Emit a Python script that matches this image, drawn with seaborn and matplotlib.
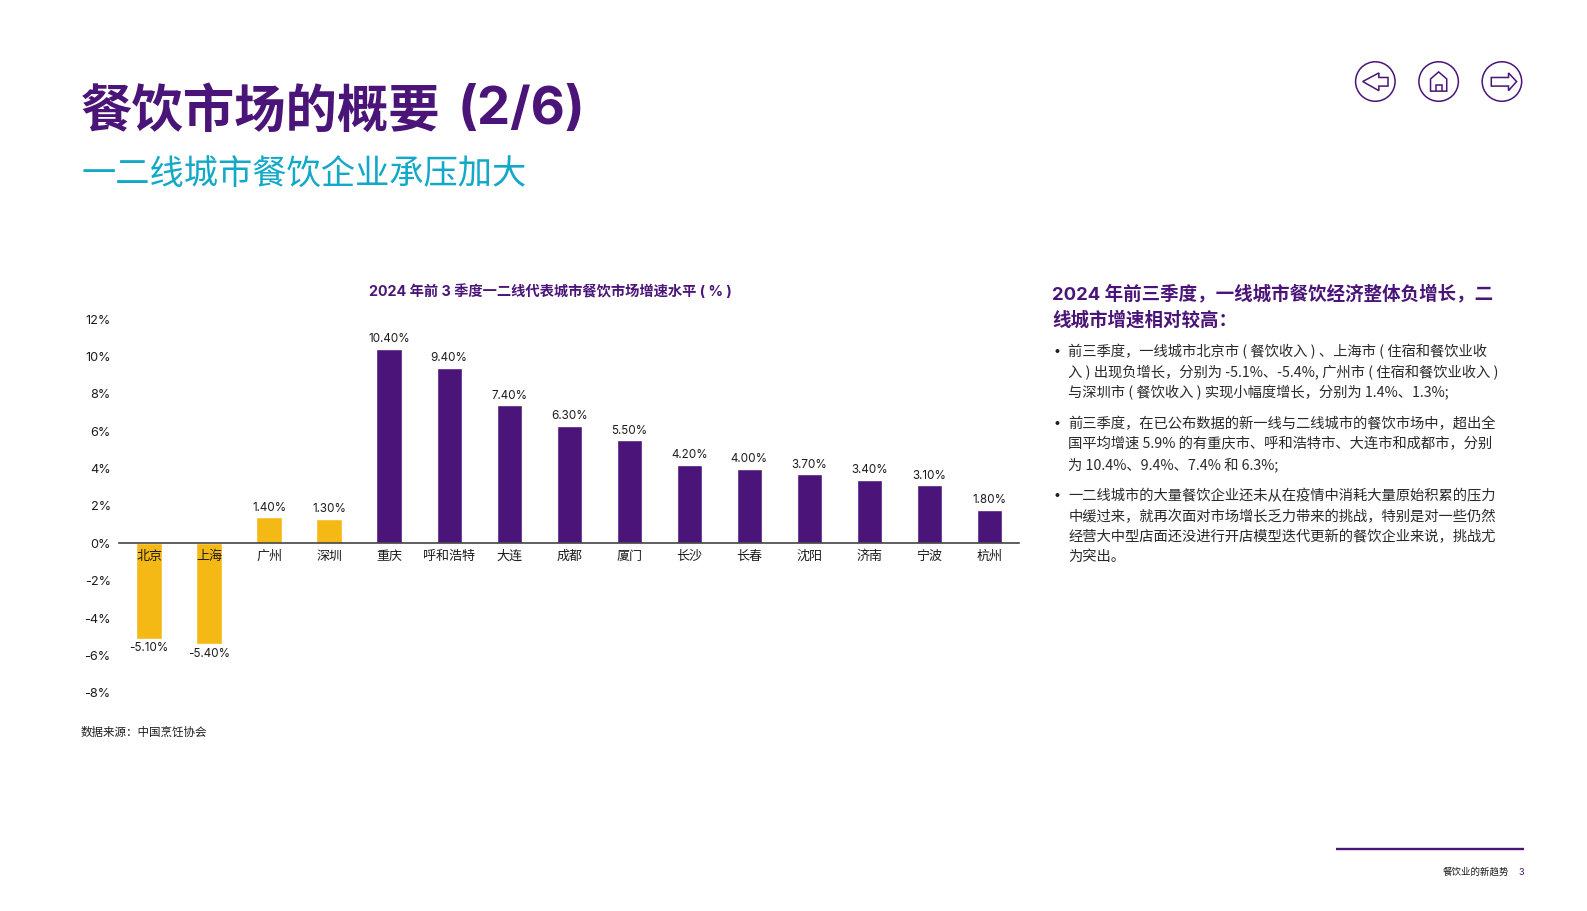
import matplotlib
matplotlib.use('Agg')
import matplotlib.pyplot as plt
import seaborn as sns
import pandas as pd
from matplotlib.patches import Circle, Polygon

# 图表数据
cities = ['北京', '上海', '广州', '深圳', '重庆', '呼和浩特', '大连', '成都',
          '厦门', '长沙', '长春', '沈阳', '济南', '宁波', '杭州']
growth = [-5.1, -5.4, 1.4, 1.3, 10.4, 9.4, 7.4, 6.3, 5.5, 4.2, 4.0, 3.7, 3.4, 3.1, 1.8]
tier = ['一线'] * 4 + ['其他'] * 11
y_ticks = [12, 10, 8, 6, 4, 2, 0, -2, -4, -6, -8]

PURPLE = '#4A1478'
CYAN = '#12A8C8'
YELLOW = '#F5B915'
INK = '#1c1c1c'

W, H = 1587, 911
# 位置是在 1567 宽的预览图上量的,这里换算
VW, VH = 1567, 899.5
BODY_FONT = ['Noto Sans CJK SC', 'DejaVu Sans']

sns.set_theme(style='white')
plt.rcParams['font.family'] = ['Inter', 'Noto Sans CJK SC', 'DejaVu Sans']
plt.rcParams['axes.unicode_minus'] = False

fig = plt.figure(figsize=(W / 100, H / 100), dpi=100, facecolor='white')

# 主图
left, right, top, bottom = 117.5, 1006.5, 315, 684
ax = fig.add_axes([left / VW, 1 - bottom / VH, (right - left) / VW, (bottom - top) / VH])
df = pd.DataFrame({'city': cities, 'growth': growth, 'tier': tier})
sns.barplot(data=df, x='city', y='growth', hue='tier', dodge=False, width=0.42,
            palette={'一线': YELLOW, '其他': PURPLE}, legend=False, ax=ax, saturation=1)
ax.set_ylim(-8, 12)
ax.set_xlim(-0.5, len(cities) - 0.5)
ax.set_xlabel('')
ax.set_ylabel('')
ax.set_yticks(y_ticks)
ax.set_yticklabels([f'{v}%' for v in y_ticks], fontsize=9.2, color=INK)
ax.tick_params(axis='y', length=0, pad=6)
ax.tick_params(axis='x', length=0, pad=5.5, labelsize=9.4, labelcolor=INK)
# 城市名要压在负值柱子上面
ax.set_axisbelow(False)
for name in ['top', 'right', 'left']:
    ax.spines[name].set_visible(False)
ax.spines['bottom'].set_position(('data', 0))
ax.spines['bottom'].set_color('#444444')
ax.spines['bottom'].set_linewidth(1.2)
ax.patch.set_alpha(0)

for c in ax.containers:
    ax.bar_label(c, fmt=lambda v: f'{v:.2f}%' if v == v and v != 0 else '',
                 fontsize=8.4, color=INK, padding=2.5)

# 叠一层像素坐标的轴,放标题、正文和图标
ov = fig.add_axes([0, 0, 1, 1], zorder=5)
ov.set_xlim(0, VW)
ov.set_ylim(VH, 0)
ov.axis('off')
ov.patch.set_alpha(0)

ov.text(80, 111, '餐饮市场的概要', fontsize=37, fontweight='bold', color=PURPLE, va='center')
ov.text(452, 109, '(2/6)', fontsize=38, fontweight='bold', color=PURPLE, va='center')
ov.text(80, 174, '一二线城市餐饮企业承压加大', fontsize=24.7, color=CYAN, va='center')
ov.text(543, 288, '2024 年前 3 季度一二线代表城市餐饮市场增速水平 ( % )', fontsize=10.3,
        fontweight='bold', color=PURPLE, va='center', ha='center')
ov.text(80, 723.5, '数据来源：中国烹饪协会', fontsize=8.3, color=INK, va='center', fontweight='medium')

ov.text(1039, 290, '2024 年前三季度，一线城市餐饮经济整体负增长，二', fontsize=13.3,
        fontweight='bold', color=PURPLE, va='center')
ov.text(1039, 316, '线城市增速相对较高：', fontsize=13.3, fontweight='bold', color=PURPLE, va='center')

bullets = [
    (347.5, ['前三季度，一线城市北京市 ( 餐饮收入 ) 、上海市 ( 住宿和餐饮业收',
             '入 ) 出现负增长，分别为 -5.1%、-5.4%, 广州市 ( 住宿和餐饮业收入 )',
             '与深圳市 ( 餐饮收入 ) 实现小幅度增长，分别为 1.4%、1.3%;']),
    (418.5, ['前三季度，在已公布数据的新一线与二线城市的餐饮市场中，超出全',
             '国平均增速 5.9% 的有重庆市、呼和浩特市、大连市和成都市，分别',
             '为 10.4%、9.4%、7.4% 和 6.3%;']),
    (490, ['一二线城市的大量餐饮企业还未从在疫情中消耗大量原始积累的压力',
           '中缓过来，就再次面对市场增长乏力带来的挑战，特别是对一些仍然',
           '经营大中型店面还没进行开店模型迭代更新的餐饮企业来说，挑战尤',
           '为突出。']),
]
for y0, lines in bullets:
    ov.text(1040, y0, '•', fontsize=9, color=INK, va='center')
    for i, line in enumerate(lines):
        ov.text(1055, y0 + i * 20, line, fontsize=10.3, color='#2a2a2a', va='center',
                family=BODY_FONT)

# 页脚
ov.plot([1319, 1505], [838.5, 838.5], color=PURPLE, lw=1.7, solid_capstyle='butt')
ov.text(1490, 861, '餐饮业的新趋势', fontsize=6.8, color=INK, va='center', ha='right')
ov.text(1505, 861, '3', fontsize=6.6, color=PURPLE, va='center', ha='right')

# 右上角导航图标
for cx in [1358, 1420.5, 1483]:
    ov.add_patch(Circle((cx, 80.5), 19.5, fill=False, ec=PURPLE, lw=1.1))
arrow_l = [(1361.5, 72), (1361.5, 76.5), (1370.5, 76.5), (1370.5, 85), (1361.5, 85), (1361.5, 89.5),
           (1345.5, 80.5)]
ov.add_patch(Polygon(arrow_l, closed=True, fill=False, ec=PURPLE, lw=1.1))
arrow_r = [(1489.5, 72), (1489.5, 76.5), (1472.5, 76.5), (1472.5, 85), (1489.5, 85), (1489.5, 89.5),
           (1497.5, 80.5)]
ov.add_patch(Polygon(arrow_r, closed=True, fill=False, ec=PURPLE, lw=1.1))
home = [(1412.5, 90), (1412.5, 78), (1420.5, 71), (1428.5, 78), (1428.5, 90)]
ov.add_patch(Polygon(home, closed=True, fill=False, ec=PURPLE, lw=1.1))
ov.add_patch(Polygon([(1417.5, 90), (1417.5, 84), (1423.5, 84), (1423.5, 90)], closed=False, fill=False,
                     ec=PURPLE, lw=1.1))

fig.savefig('out.png', dpi=100)
